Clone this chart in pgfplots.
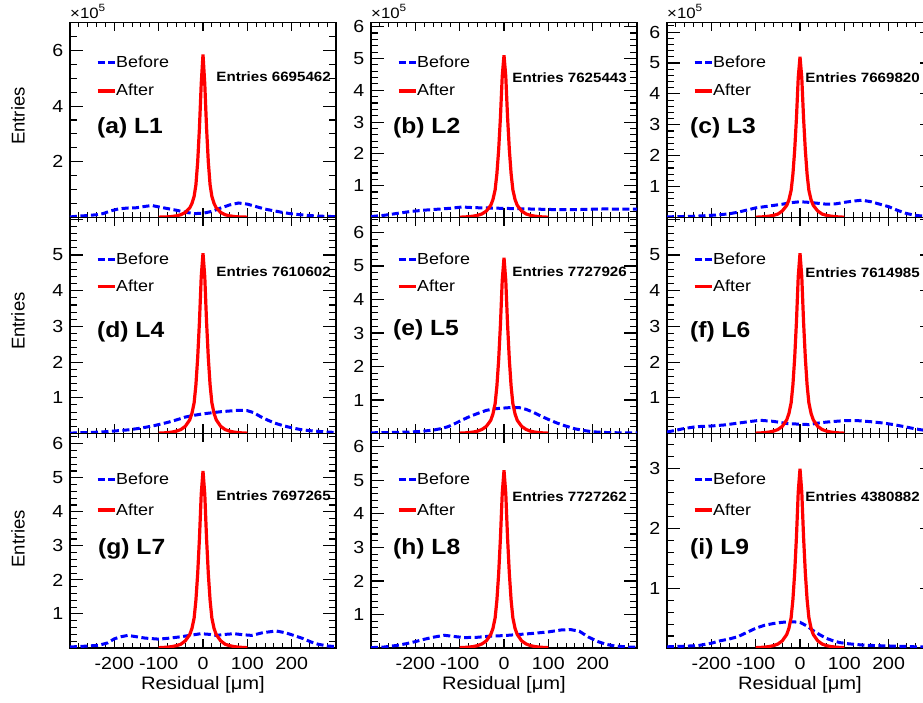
\documentclass[border=0pt]{standalone}
\usepackage{fontspec}
\setmainfont{Liberation Sans}[FakeStretch=1.12]
\newfontfamily\plainsans{Liberation Sans}
\usepackage{pgfplots}
\pgfplotsset{compat=1.18}
\newcommand\ticksize{\fontsize{17.5}{17.5}\selectfont}
\newcommand\legsize{\fontsize{16}{16}\selectfont}
\newcommand\labsize{\fontsize{22}{22}\selectfont\bfseries}
\newcommand\statsize{\fontsize{13.5}{13.5}\selectfont\bfseries}
\newcommand\xlsize{\fontsize{18}{18}\selectfont}
\newcommand\ylsize{\plainsans\fontsize{18.5}{18.5}\selectfont}
\newcommand\expsize{\fontsize{15}{15}\selectfont}
\newcommand\supsize{\fontsize{10.5}{10.5}\selectfont}
\definecolor{rootblue}{RGB}{0,0,255}
\definecolor{rootred}{RGB}{255,0,0}
\pgfplotsset{
 panel/.style={
  scale only axis, width=266pt, clip mode=individual,
  xmin=-300, xmax=300, ymin=0,
  axis line style={line width=1.5pt},
  tick style={black, line width=1.1pt},
  tick align=inside,
  xtick={-200,-100,0,100,200},
  minor xtick={-300,-280,...,300},
  xticklabels={},
  xtick style={/pgfplots/major tick length=9pt,/pgfplots/minor tick length=5pt},
  ytick style={/pgfplots/major tick length=13pt,/pgfplots/minor tick length=7pt},
  yticklabel style={font=\ticksize, inner sep=0pt, xshift=-6.5pt},
  xticklabel style={font=\ticksize, inner sep=0pt, yshift=-9pt},
  legend cell align=left,
  legend style={draw=none, fill=none, at={(rel axis cs:0,1)}, anchor=north west,
    xshift=26pt, inner sep=0pt, outer sep=0pt, font=\legsize,
    nodes={inner sep=0pt},
    /tikz/every even column/.append style={column sep=3pt}},
  legend image code/.code={\draw[##1] (0pt,0pt) -- (17pt,0pt);},
 },
 std/.style={ytick={0,1,...,6}, minor ytick={0,0.2,...,6.6}, yticklabels={,1,2,3,4,5,6}},
 r1/.style={height=195pt, legend style={yshift=-33.3pt, row sep=15.5pt}},
 r2/.style={height=216pt, legend style={yshift=-35pt, row sep=14.2pt}},
 r3/.style={height=214.5pt, legend style={yshift=-39pt, row sep=17.9pt},
   xticklabels={-200,-100,0,100,200}},
 before/.style={rootblue, line width=3pt, dash pattern=on 7pt off 3.5pt},
 after/.style={rootred, line width=3.2pt},
}
\newcommand\expo{\node[anchor=base west, inner sep=0pt, font=\expsize] at ([yshift=4.2pt]rel axis cs:0,1) {×10\raisebox{7pt}{\supsize 5}};}
\begin{document}
\begin{tikzpicture}
% ===== Row 1 =====
\begin{axis}[panel, r1, at={(70pt,485.5pt)}, anchor=south west, ymax=7.0,
  ytick={0,2,4,6}, minor ytick={0,0.5,...,7}, yticklabels={,2,4,6}]
\addplot[before] coordinates {(-300,0.02) (-280,0.05) (-260,0.07) (-240,0.10) (-225,0.14) (-210,0.23) (-190,0.31) (-170,0.34) (-150,0.35) (-130,0.40) (-115,0.43) (-100,0.38) (-80,0.32) (-60,0.26) (-40,0.19) (-20,0.14) (0,0.15) (20,0.22) (40,0.34) (60,0.45) (80,0.52) (100,0.48) (120,0.39) (140,0.30) (160,0.24) (180,0.18) (200,0.13) (220,0.10) (240,0.07) (260,0.05) (280,0.04) (300,0.03)};
\addplot[after] coordinates {(-100,0.012) (-90,0.018) (-80,0.023) (-70,0.035) (-60,0.06) (-50,0.10) (-40,0.18) (-30,0.34) (-25,0.50) (-20,0.76) (-16,1.17) (-12,1.99) (-8,3.22) (-4,4.80) (0,5.85) (4,4.80) (8,3.22) (12,1.99) (16,1.17) (20,0.76) (25,0.50) (30,0.34) (40,0.18) (50,0.10) (60,0.06) (70,0.035) (80,0.023) (90,0.018) (100,0.012)};
\legend{Before,After}
\expo
\node[anchor=east, inner sep=0pt, font=\statsize] at ([xshift=-5pt,yshift=-54.6pt]rel axis cs:1,1) {Entries 6695462};
\node[anchor=west, inner sep=0pt, font=\labsize] at ([xshift=27pt,yshift=-105.6pt]rel axis cs:0,1) {(a) L1};
\node[rotate=90, inner sep=0pt, font=\ylsize] at ([xshift=-52pt]rel axis cs:0,0.52) {Entries};
\end{axis}
\begin{axis}[panel, r1, std, at={(371pt,485.5pt)}, anchor=south west, ymax=6.13]
\addplot[before] coordinates {(-300,0.03) (-270,0.07) (-240,0.13) (-210,0.19) (-180,0.23) (-150,0.26) (-120,0.29) (-95,0.33) (-70,0.31) (-40,0.30) (-10,0.29) (20,0.28) (50,0.27) (80,0.26) (110,0.25) (140,0.25) (170,0.25) (200,0.26) (230,0.27) (260,0.26) (290,0.26) (300,0.26)};
\addplot[after] coordinates {(-100,0.010) (-90,0.015) (-80,0.026) (-70,0.041) (-60,0.066) (-50,0.11) (-40,0.20) (-30,0.38) (-25,0.56) (-20,0.87) (-16,1.38) (-12,2.14) (-8,3.16) (-4,4.44) (0,5.1) (4,4.44) (8,3.16) (12,2.14) (16,1.38) (20,0.87) (25,0.56) (30,0.38) (40,0.20) (50,0.11) (60,0.066) (70,0.041) (80,0.026) (90,0.015) (100,0.010)};
\legend{Before,After}
\expo
\node[anchor=east, inner sep=0pt, font=\statsize] at ([xshift=-10pt,yshift=-55pt]rel axis cs:1,1) {Entries 7625443};
\node[anchor=west, inner sep=0pt, font=\labsize] at ([xshift=22pt,yshift=-105.6pt]rel axis cs:0,1) {(b) L2};
\end{axis}
\begin{axis}[panel, r1, std, at={(667pt,485.5pt)}, anchor=south west, ymax=6.31]
\addplot[before] coordinates {(-300,0.02) (-270,0.03) (-240,0.04) (-210,0.06) (-180,0.09) (-160,0.12) (-140,0.17) (-120,0.24) (-100,0.31) (-80,0.35) (-60,0.39) (-40,0.43) (-20,0.48) (0,0.51) (20,0.49) (40,0.46) (60,0.43) (80,0.44) (100,0.49) (120,0.53) (140,0.56) (160,0.51) (180,0.43) (200,0.35) (220,0.23) (240,0.13) (260,0.07) (280,0.04) (300,0.03)};
\addplot[after] coordinates {(-100,0.010) (-90,0.016) (-80,0.026) (-70,0.042) (-60,0.068) (-50,0.11) (-40,0.21) (-30,0.39) (-25,0.57) (-20,0.88) (-16,1.40) (-12,2.18) (-8,3.22) (-4,4.52) (0,5.2) (4,4.52) (8,3.22) (12,2.18) (16,1.40) (20,0.88) (25,0.57) (30,0.39) (40,0.21) (50,0.11) (60,0.068) (70,0.042) (80,0.026) (90,0.016) (100,0.010)};
\legend{Before,After}
\expo
\node[anchor=east, inner sep=0pt, font=\statsize] at ([xshift=-13pt,yshift=-55pt]rel axis cs:1,1) {Entries 7669820};
\node[anchor=west, inner sep=0pt, font=\labsize] at ([xshift=23pt,yshift=-105.6pt]rel axis cs:0,1) {(c) L3};
\end{axis}
% ===== Row 2 =====
\begin{axis}[panel, r2, std, yticklabels={,1,2,3,4,5,}, at={(70pt,269.5pt)}, anchor=south west, ymax=6.05]
\addplot[before] coordinates {(-300,0.01) (-280,0.02) (-250,0.03) (-220,0.05) (-200,0.07) (-170,0.10) (-140,0.15) (-110,0.22) (-80,0.31) (-60,0.38) (-40,0.46) (-20,0.51) (0,0.55) (20,0.58) (40,0.61) (60,0.63) (80,0.65) (100,0.64) (115,0.58) (130,0.47) (145,0.38) (160,0.30) (180,0.22) (200,0.16) (220,0.11) (240,0.08) (260,0.06) (280,0.04) (300,0.03)};
\addplot[after] coordinates {(-100,0.010) (-90,0.015) (-80,0.025) (-70,0.040) (-60,0.066) (-50,0.11) (-40,0.20) (-30,0.38) (-25,0.56) (-20,0.86) (-16,1.36) (-12,2.12) (-8,3.13) (-4,4.39) (0,5.05) (4,4.39) (8,3.13) (12,2.12) (16,1.36) (20,0.86) (25,0.56) (30,0.38) (40,0.20) (50,0.11) (60,0.066) (70,0.040) (80,0.025) (90,0.015) (100,0.010)};
\legend{Before,After}
\node[anchor=east, inner sep=0pt, font=\statsize] at ([xshift=-5pt,yshift=-54.4pt]rel axis cs:1,1) {Entries 7610602};
\node[anchor=west, inner sep=0pt, font=\labsize] at ([xshift=27pt,yshift=-114.4pt]rel axis cs:0,1) {(d) L4};
\node[rotate=90, inner sep=0pt, font=\ylsize] at ([xshift=-52pt]rel axis cs:0,0.52) {Entries};
\end{axis}
\begin{axis}[panel, r2, std, at={(371pt,269.5pt)}, anchor=south west, ymax=6.45]
\addplot[before] coordinates {(-300,0.02) (-260,0.03) (-220,0.04) (-190,0.06) (-160,0.10) (-140,0.15) (-125,0.21) (-110,0.30) (-95,0.40) (-75,0.52) (-55,0.62) (-40,0.69) (-20,0.74) (0,0.76) (20,0.78) (35,0.77) (50,0.72) (65,0.64) (80,0.54) (100,0.42) (120,0.31) (140,0.22) (160,0.14) (180,0.09) (200,0.05) (230,0.03) (260,0.02) (300,0.02)};
\addplot[after] coordinates {(-100,0.011) (-90,0.016) (-80,0.026) (-70,0.042) (-60,0.068) (-50,0.12) (-40,0.21) (-30,0.39) (-25,0.58) (-20,0.89) (-16,1.42) (-12,2.21) (-8,3.26) (-4,4.57) (0,5.25) (4,4.57) (8,3.26) (12,2.21) (16,1.42) (20,0.89) (25,0.58) (30,0.39) (40,0.21) (50,0.12) (60,0.068) (70,0.042) (80,0.026) (90,0.016) (100,0.011)};
\legend{Before,After}
\node[anchor=east, inner sep=0pt, font=\statsize] at ([xshift=-10pt,yshift=-54.4pt]rel axis cs:1,1) {Entries 7727926};
\node[anchor=west, inner sep=0pt, font=\labsize] at ([xshift=22pt,yshift=-112.7pt]rel axis cs:0,1) {(e) L5};
\end{axis}
\begin{axis}[panel, r2, std, yticklabels={,1,2,3,4,5,}, at={(667pt,269.5pt)}, anchor=south west, ymax=6.05]
\addplot[before] coordinates {(-300,0.04) (-280,0.09) (-265,0.13) (-235,0.19) (-200,0.21) (-170,0.24) (-140,0.29) (-110,0.34) (-90,0.37) (-60,0.34) (-30,0.28) (0,0.26) (20,0.25) (40,0.29) (60,0.32) (80,0.34) (100,0.36) (130,0.36) (160,0.33) (190,0.29) (215,0.24) (240,0.18) (260,0.13) (280,0.09) (300,0.06)};
\addplot[after] coordinates {(-100,0.010) (-90,0.015) (-80,0.025) (-70,0.040) (-60,0.066) (-50,0.11) (-40,0.20) (-30,0.38) (-25,0.56) (-20,0.86) (-16,1.36) (-12,2.12) (-8,3.13) (-4,4.39) (0,5.05) (4,4.39) (8,3.13) (12,2.12) (16,1.36) (20,0.86) (25,0.56) (30,0.38) (40,0.20) (50,0.11) (60,0.066) (70,0.040) (80,0.025) (90,0.015) (100,0.010)};
\legend{Before,After}
\node[anchor=east, inner sep=0pt, font=\statsize] at ([xshift=-13pt,yshift=-55.4pt]rel axis cs:1,1) {Entries 7614985};
\node[anchor=west, inner sep=0pt, font=\labsize] at ([xshift=23pt,yshift=-114.4pt]rel axis cs:0,1) {(f) L6};
\end{axis}
% ===== Row 3 =====
\begin{axis}[panel, r3, std, at={(70pt,55pt)}, anchor=south west, ymax=6.3]
\addplot[before] coordinates {(-300,0.03) (-270,0.05) (-235,0.08) (-215,0.15) (-200,0.27) (-185,0.33) (-170,0.37) (-150,0.33) (-130,0.29) (-100,0.26) (-75,0.29) (-50,0.33) (-25,0.38) (-5,0.42) (15,0.40) (30,0.37) (50,0.40) (70,0.42) (90,0.39) (110,0.37) (135,0.45) (165,0.50) (185,0.45) (200,0.39) (225,0.28) (245,0.17) (260,0.11) (280,0.06) (300,0.04)};
\addplot[after] coordinates {(-100,0.010) (-90,0.016) (-80,0.026) (-70,0.042) (-60,0.068) (-50,0.11) (-40,0.21) (-30,0.39) (-25,0.57) (-20,0.88) (-16,1.40) (-12,2.18) (-8,3.22) (-4,4.52) (0,5.2) (4,4.52) (8,3.22) (12,2.18) (16,1.40) (20,0.88) (25,0.57) (30,0.39) (40,0.21) (50,0.11) (60,0.068) (70,0.042) (80,0.026) (90,0.016) (100,0.010)};
\legend{Before,After}
\node[anchor=east, inner sep=0pt, font=\statsize] at ([xshift=-5pt,yshift=-61.7pt]rel axis cs:1,1) {Entries 7697265};
\node[anchor=west, inner sep=0pt, font=\labsize] at ([xshift=28pt,yshift=-115pt]rel axis cs:0,1) {(g) L7};
\node[rotate=90, inner sep=0pt, font=\ylsize] at ([xshift=-52pt]rel axis cs:0,0.51) {Entries};
\node[inner sep=0pt, font=\xlsize] at ([yshift=-37.3pt]rel axis cs:0.5,0) {Residual [μm]};
\end{axis}
\begin{axis}[panel, r3, std, at={(371pt,55pt)}, anchor=south west, ymax=6.4]
\addplot[before] coordinates {(-300,0.01) (-270,0.03) (-240,0.08) (-220,0.13) (-200,0.19) (-180,0.26) (-160,0.32) (-135,0.38) (-110,0.34) (-90,0.31) (-60,0.32) (-35,0.35) (0,0.37) (30,0.40) (60,0.43) (100,0.48) (130,0.54) (150,0.55) (170,0.50) (190,0.33) (210,0.20) (230,0.11) (250,0.06) (280,0.03) (300,0.02)};
\addplot[after] coordinates {(-100,0.011) (-90,0.016) (-80,0.027) (-70,0.042) (-60,0.069) (-50,0.12) (-40,0.21) (-30,0.40) (-25,0.58) (-20,0.90) (-16,1.43) (-12,2.23) (-8,3.29) (-4,4.61) (0,5.3) (4,4.61) (8,3.29) (12,2.23) (16,1.43) (20,0.90) (25,0.58) (30,0.40) (40,0.21) (50,0.12) (60,0.069) (70,0.042) (80,0.027) (90,0.016) (100,0.011)};
\legend{Before,After}
\node[anchor=east, inner sep=0pt, font=\statsize] at ([xshift=-10pt,yshift=-62.7pt]rel axis cs:1,1) {Entries 7727262};
\node[anchor=west, inner sep=0pt, font=\labsize] at ([xshift=22pt,yshift=-115pt]rel axis cs:0,1) {(h) L8};
\node[inner sep=0pt, font=\xlsize] at ([yshift=-37.3pt]rel axis cs:0.5,0) {Residual [μm]};
\end{axis}
\begin{axis}[panel, r3, at={(667pt,55pt)}, anchor=south west, ymax=3.59,
  ytick={0,1,2,3}, minor ytick={0,0.2,...,3.6}, yticklabels={,1,2,3}]
\addplot[before] coordinates {(-300,0.02) (-260,0.03) (-230,0.04) (-200,0.08) (-180,0.12) (-160,0.15) (-140,0.19) (-120,0.26) (-100,0.33) (-80,0.38) (-60,0.41) (-40,0.43) (-20,0.44) (0,0.43) (15,0.37) (30,0.29) (45,0.22) (60,0.16) (75,0.12) (90,0.09) (110,0.07) (140,0.05) (170,0.04) (220,0.03) (260,0.02) (300,0.02)};
\addplot[after] coordinates {(-100,0.006) (-90,0.009) (-80,0.015) (-70,0.024) (-60,0.039) (-50,0.066) (-40,0.12) (-30,0.225) (-25,0.33) (-20,0.51) (-16,0.81) (-12,1.26) (-8,1.86) (-4,2.61) (0,3.0) (4,2.61) (8,1.86) (12,1.26) (16,0.81) (20,0.51) (25,0.33) (30,0.225) (40,0.12) (50,0.066) (60,0.039) (70,0.024) (80,0.015) (90,0.009) (100,0.006)};
\legend{Before,After}
\node[anchor=east, inner sep=0pt, font=\statsize] at ([xshift=-13pt,yshift=-62.7pt]rel axis cs:1,1) {Entries 4380882};
\node[anchor=west, inner sep=0pt, font=\labsize] at ([xshift=23pt,yshift=-115pt]rel axis cs:0,1) {(i) L9};
\node[inner sep=0pt, font=\xlsize] at ([yshift=-37.3pt]rel axis cs:0.5,0) {Residual [μm]};
\end{axis}
\pgfresetboundingbox
\useasboundingbox (0pt,0pt) rectangle (923pt,703pt);
\end{tikzpicture}
\end{document}
